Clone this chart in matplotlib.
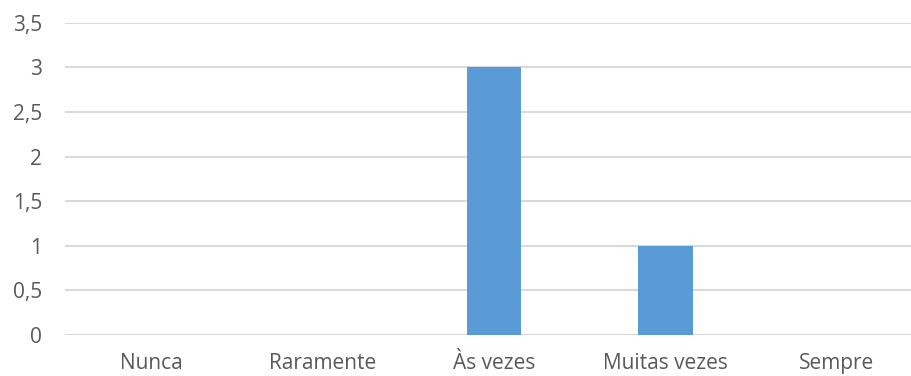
import matplotlib
matplotlib.use("Agg")
import matplotlib.pyplot as plt

categories = ["Nunca", "Raramente", "Às vezes", "Muitas vezes", "Sempre"]
values = [0, 0, 3, 1, 0]
yticks = [0, 0.5, 1, 1.5, 2, 2.5, 3, 3.5]
ytick_labels = ["0", "0,5", "1", "1,5", "2", "2,5", "3", "3,5"]

plt.rcParams["font.family"] = ["Open Sans", "DejaVu Sans"]

W, H = 912, 376
fig = plt.figure(figsize=(W / 100, H / 100), dpi=100)
left, right = 65.25, 922.75
bottom, top = 335, 22.7
ax = fig.add_axes([left / W, (H - bottom) / H, (right - left) / W, (bottom - top) / H])

x = list(range(len(categories)))
ax.bar(x, values, width=0.315, color="#5b9bd5", zorder=3)

ax.set_xlim(-0.5, len(categories) - 0.5)
ax.set_ylim(0, 3.5)
ax.set_yticks(yticks)
ax.set_yticklabels(ytick_labels)
ax.set_xticks(x)
ax.set_xticklabels(categories)

ax.grid(axis="y", color="#d9d9d9", linewidth=1.5, zorder=0)
for s in ax.spines.values():
    s.set_visible(False)
ax.axhline(0, color="#d9d9d9", linewidth=1.5, zorder=2)

ax.tick_params(axis="y", length=0, pad=16.5, labelsize=15, labelcolor="#595959")
ax.tick_params(axis="x", length=0, pad=13, labelsize=15, labelcolor="#595959")

fig.savefig("out.png", dpi=100)
